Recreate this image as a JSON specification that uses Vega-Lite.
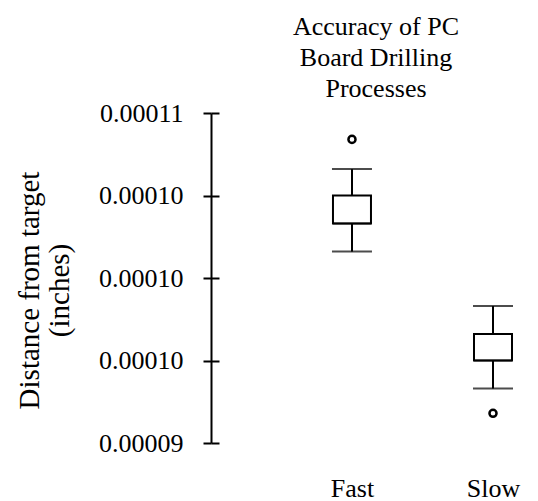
{
  "$schema": "https://vega.github.io/schema/vega-lite/v6.json",
  "width": 330,
  "height": 330,
  "autosize": {"type": "none"},
  "padding": {"left": 211, "top": 113, "right": 0, "bottom": 58},
  "background": "white",
  "config": {
    "view": {"stroke": null},
    "font": "Liberation Serif"
  },
  "title": {
    "text": ["Accuracy of PC", "Board Drilling", "Processes"],
    "fontSize": 26,
    "fontWeight": "normal",
    "font": "Liberation Serif",
    "color": "black",
    "lineHeight": 31,
    "anchor": "middle",
    "offset": -2
  },
  "datasets": {
    "summary": [
      {"process": "Fast", "lower": 0.0001016, "q1": 0.0001033, "median": 0.0001033, "q3": 0.000105, "upper": 0.0001066},
      {"process": "Slow", "lower": 0.0000933, "q1": 0.000095, "median": 0.000095, "q3": 0.0000966, "upper": 0.0000983}
    ],
    "outliers": [
      {"process": "Fast", "distance": 0.0001084},
      {"process": "Slow", "distance": 0.0000918}
    ]
  },
  "encoding": {
    "x": {
      "field": "process",
      "type": "nominal",
      "scale": {"type": "point", "domain": ["Fast", "Slow"], "padding": 0.67, "align": 0.746},
      "axis": {
        "title": null,
        "domain": false,
        "ticks": false,
        "labelAngle": 0,
        "labelFontSize": 26,
        "labelFont": "Liberation Serif",
        "labelColor": "black",
        "labelPadding": 32
      }
    }
  },
  "layer": [
    {
      "data": {"name": "summary"},
      "mark": {"type": "rule", "color": "black", "strokeWidth": 2},
      "encoding": {
        "y": {
          "field": "lower",
          "type": "quantitative",
          "scale": {"domain": [0.00009, 0.00011], "nice": false, "zero": false},
          "axis": {
            "title": ["Distance from target", "(inches)"],
            "titleFontSize": 29,
            "titleFont": "Liberation Serif",
            "titleFontWeight": "normal",
            "titleColor": "black",
            "titleLineHeight": 30,
            "titlePadding": 24,
            "titleY": 177,
            "values": [0.00009, 0.000095, 0.0001, 0.000105, 0.00011],
            "labelExpr": "datum.value < 0.0000925 ? '0.00009' : (datum.value > 0.0001075 ? '0.00011' : '0.00010')",
            "labelFontSize": 26,
            "labelFont": "Liberation Serif",
            "labelColor": "black",
            "labelPadding": 20,
            "domainColor": "black",
            "domainWidth": 2,
            "tickColor": "black",
            "tickWidth": 2,
            "tickSize": 8,
            "grid": true,
            "gridColor": "black",
            "gridWidth": 2,
            "gridDash": [8, 600],
            "gridOpacity": 1
          }
        },
        "y2": {"field": "upper"}
      }
    },
    {
      "data": {"name": "summary"},
      "mark": {"type": "bar", "fill": "white", "stroke": "black", "strokeWidth": 2, "size": 38},
      "encoding": {
        "y": {"field": "q1", "type": "quantitative"},
        "y2": {"field": "q3"}
      }
    },
    {
      "data": {"name": "summary"},
      "mark": {"type": "tick", "color": "black", "thickness": 2, "size": 40},
      "encoding": {"y": {"field": "lower", "type": "quantitative"}}
    },
    {
      "data": {"name": "summary"},
      "mark": {"type": "tick", "color": "black", "thickness": 2, "size": 40},
      "encoding": {"y": {"field": "upper", "type": "quantitative"}}
    },
    {
      "data": {"name": "summary"},
      "mark": {"type": "tick", "color": "black", "thickness": 2, "size": 38},
      "encoding": {"y": {"field": "median", "type": "quantitative"}}
    },
    {
      "data": {"name": "outliers"},
      "mark": {"type": "point", "shape": "circle", "color": "black", "filled": false, "strokeWidth": 2.5, "size": 50, "opacity": 1},
      "encoding": {"y": {"field": "distance", "type": "quantitative"}}
    }
  ]
}
